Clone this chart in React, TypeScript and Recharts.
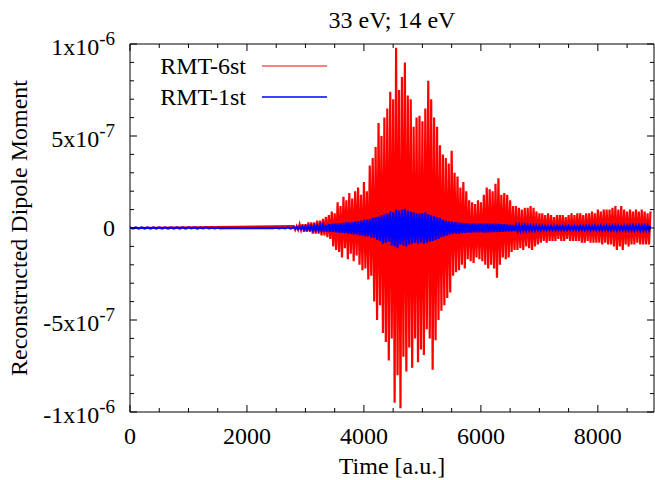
import React from 'react';
import { LineChart, Line, XAxis, YAxis, ReferenceArea, Customized } from 'recharts';

// ---- data (values in units of 1e-8) ----
const RED_T0 = 2800;
const BLUE_EARLY_T0 = 0;
const STEP_MAIN = 25;
const STEP_EARLY = 50;

const redValues: number[] = [
  1, -1, 1, -1, 2, -1, 2, -2,
  2, -2, 3, -2, 3, -3, 3, -3,
  4, -3, 4, -4, 5, -4, 6, -5,
  7, -6, 9, -10, 8, -12, 14, -13,
  12, -16, 17, -11, 15, -17, 19, -14,
  16, -18, 20, -15, 22, -20, 18, -23,
  25, -22, 20, -28, 34, -26, 38, -40,
  44, -50, 57, -42, 50, -57, 60, -62,
  65, -72, 74, -60, 70, -95, 98, -80,
  75, -98, 82, -70, 90, -78, 72, -65,
  70, -76, 55, -60, 60, -73, 61, -66,
  58, -69, 65, -55, 80, -60, 70, -77,
  60, -61, 55, -50, 45, -45, 40, -42,
  38, -38, 35, -35, 42, -26, 30, -24,
  28, -23, 22, -20, 25, -22, 20, -17,
  15, -18, 14, -19, 13, -16, 15, -17,
  14, -18, 18, -20, 22, -22, 21, -20,
  20, -22, 24, -27, 27, -20, 18, -16,
  19, -17, 18, -16, 15, -13, 12, -12,
  12, -12, 11, -11, 10, -12, 11, -10,
  11, -11, 12, -12, 11, -10, 9, -9,
  8, -8, 8, -7, 7, -8, 8, -7,
  7, -7, 6, -7, 7, -6, 7, -7,
  7, -7, 6, -6, 7, -7, 8, -7,
  7, -7, 8, -7, 8, -8, 7, -8,
  8, -7, 8, -8, 9, -8, 8, -8,
  10, -8, 9, -9, 10, -8, 10, -9,
  10, -9, 11, -10, 12, -12, 10, -10,
  12, -12, 10, -9, 9, -10, 10, -9,
  9, -9, 10, -8, 9, -9, 10, -9,
  9, -9, 8, -9, 9,
];

const blueEarlyValues: number[] = [
  0.3, -0.3, 0.3, -0.3, 0.3, -0.3, 0.3, -0.3,
  0.3, -0.3, 0.3, -0.3, 0.3, -0.3, 0.3, -0.3,
  0.3, -0.3, 0.3, -0.3, 0.3, -0.2, 0.3, -0.3,
  0.2, -0.2, 0.3, -0.2, 0.2, -0.2, 0.2, -0.2,
  0.1, -0.1, 0.1, -0.1, 0.1, -0.1, 0.1, -0.1,
  0.1, -0.1, 0.1, -0.1, 0.1, -0.1, 0.1, -0.1,
  0.1, -0.1, 0.2, -0.2, 0.2, -0.2, 0.3, -0.3,
];

const blueValues: number[] = [
  0.4, -0.4, 0.5, -0.5, 0.6, -0.6, 0.7, -0.7,
  0.8, -0.8, 0.9, -0.9, 1, -1.1, 1.1, -1.1,
  1.2, -1.2, 1.4, -1.4, 1.5, -1.7, 1.7, -1.9,
  2, -2, 2.2, -2, 2.3, -2.3, 2.5, -2.5,
  2.5, -2.6, 2.8, -2.8, 3, -3, 3, -3.2,
  3.2, -3.4, 3.5, -3.5, 3.8, -4, 4, -4.2,
  4.4, -4.5, 4.6, -4.5, 5, -5.2, 5.5, -5.4,
  6, -6.5, 6.2, -7, 7, -8.5, 7.5, -8,
  8, -7.5, 9, -9.5, 8.5, -10, 10, -11,
  9.5, -9, 10, -9.5, 10.5, -10, 9.5, -9,
  9, -8.5, 8.5, -8, 8, -8.5, 8, -8,
  8, -8.5, 8.5, -8, 7.5, -7.5, 7, -7,
  6.5, -6.5, 6, -6, 5.5, -5, 4.5, -4.5,
  4, -4, 3.8, -3.5, 3.5, -3.2, 3.2, -3,
  3, -3, 2.8, -2.8, 2.8, -2.6, 2.6, -2.5,
  2.5, -2.5, 2.4, -2.4, 2.3, -2.3, 2.3, -2.2,
  2.3, -2.3, 2.4, -2.5, 2.4, -2.3, 2.3, -2.2,
  2.2, -2.2, 2.3, -2.2, 2.2, -2.1, 2, -2,
  2, -1.9, 1.8, -1.8, 1.7, -1.7, 1.6, -1.6,
  1.5, -1.5, 1.5, -1.4, 1.4, -1.4, 1.3, -1.3,
  1.3, -1.3, 1.2, -1.2, 1.2, -1.2, 1.1, -1.1,
  1.1, -1.1, 1, -1, 1, -1, 1, -1,
  1, -1, 1, -1, 0.9, -0.9, 1, -1,
  0.9, -0.9, 1, -1, 0.9, -0.9, 1, -1,
  1, -1, 1, -1, 1, -1, 1, -1,
  1, -1, 1.1, -1.1, 1, -1, 1.1, -1,
  1, -1, 1.1, -1.1, 1, -1, 1, -1.1,
  1.1, -1.1, 1, -1, 1.2, -1.2, 1.1, -1,
  1, -1, 1.1, -1.1, 1, -1.1, 1.2, -1.2,
  1.2, -1.2, 1.1, -1.1, 1.2, -1.2, 1.3, -1.2,
  1.2, -1.2, 1.3, -1.2, 1.2,
];

const xTicks = [0, 500, 1000, 1500, 2000, 2500, 3000, 3500, 4000, 4500, 5000, 5500, 6000, 6500, 7000, 7500, 8000, 8500];
const xMajor = [0, 2000, 4000, 6000, 8000];
const yLabels = [
  { v: 1e-6, m: '1x10', e: '-6' },
  { v: 5e-7, m: '5x10', e: '-7' },
  { v: 0, m: '0', e: '' },
  { v: -5e-7, m: '-5x10', e: '-7' },
  { v: -1e-6, m: '-1x10', e: '-6' },
];
const yTicks = [-10, -9, -8, -7, -6, -5, -4, -3, -2, -1, 0, 1, 2, 3, 4, 5, 6, 7, 8, 9, 10].map((k) => k * 1e-7);

const SCALE = 1e-8;
const toSeries = (vals: number[], t0: number, step: number) =>
  vals.map((v, i) => ({ t: t0 + i * step, v: v * SCALE }));

const redData = [{ t: 0, v: 0 }, ...toSeries(redValues, RED_T0, STEP_MAIN)];
const blueData = [
  ...toSeries(blueEarlyValues, BLUE_EARLY_T0, STEP_EARLY),
  ...toSeries(blueValues, RED_T0, STEP_MAIN),
];

// ---- layout ----
const W = 655;
const H = 480;
const PL = 130;
const PR = 654;
const PT = 44;
const PB = 412;
const FONT = '"Liberation Serif", "Times New Roman", serif';

const XTick = (props: any) => {
  const { x, payload } = props;
  const v = payload.value;
  const major = xMajor.includes(v);
  const len = major ? 7 : 4;
  return (
    <g>
      <line x1={x} y1={PB} x2={x} y2={PB - len} stroke="#000" strokeWidth={1} />
      <line x1={x} y1={PT} x2={x} y2={PT + len} stroke="#000" strokeWidth={1} />
      {major && (
        <text x={x} y={444} textAnchor="middle" fontSize={24} fontFamily={FONT} fill="#000">
          {v}
        </text>
      )}
    </g>
  );
};

const YTick = (props: any) => {
  const { y, payload } = props;
  const v = payload.value;
  const lab = yLabels.find((l) => Math.abs(l.v - v) < 1e-9);
  const len = lab ? 7 : 4;
  return (
    <g>
      <line x1={PL} y1={y} x2={PL + len} y2={y} stroke="#000" strokeWidth={1} />
      <line x1={PR} y1={y} x2={PR - len} y2={y} stroke="#000" strokeWidth={1} />
      {lab && (
        <text x={115} y={y + (lab.e ? 11 : 8)} textAnchor="end" fontSize={24} fontFamily={FONT} fill="#000">
          {lab.m}
          {lab.e && (
            <tspan dy={-10} fontSize={19}>
              {lab.e}
            </tspan>
          )}
        </text>
      )}
    </g>
  );
};

const Decor = () => (
  <g fontFamily={FONT} fill="#000">
    <text x={392} y={28} textAnchor="middle" fontSize={24}>33 eV; 14 eV</text>
    <text x={392} y={474} textAnchor="middle" fontSize={24}>Time [a.u.]</text>
    <text transform="rotate(-90)" x={-228} y={27} textAnchor="middle" fontSize={24}>
      Reconstructed Dipole Moment
    </text>
    <text x={246} y={74} textAnchor="end" fontSize={24}>RMT-6st</text>
    <line x1={262} y1={66} x2={327} y2={66} stroke="#ff0000" strokeWidth={1} />
    <text x={246} y={105} textAnchor="end" fontSize={24}>RMT-1st</text>
    <line x1={262} y1={97} x2={327} y2={97} stroke="#0000ff" strokeWidth={1.5} />
  </g>
);

export default function App() {
  return (
    <div style={{ position: 'absolute', left: 0, top: 0, width: W, height: H, background: '#fff' }}>
      <LineChart width={W} height={H} margin={{ top: PT, right: W - PR, bottom: 0, left: 0 }}>
        <XAxis
          type="number"
          dataKey="t"
          domain={[0, 8960]}
          ticks={xTicks}
          interval={0}
          tick={<XTick />}
          tickLine={false}
          axisLine={false}
          height={H - PB}
          allowDataOverflow
        />
        <YAxis
          type="number"
          domain={[-1e-6, 1e-6]}
          ticks={yTicks}
          interval={0}
          tick={<YTick />}
          tickLine={false}
          axisLine={false}
          width={PL}
          allowDataOverflow
        />
        <Line
          data={redData}
          dataKey="v"
          type="linear"
          stroke="#ff0000"
          strokeWidth={2.2}
          strokeLinejoin="miter"
          dot={false}
          isAnimationActive={false}
        />
        <Line
          data={blueData}
          dataKey="v"
          type="linear"
          stroke="#0000ff"
          strokeWidth={2.2}
          dot={false}
          isAnimationActive={false}
        />
        <ReferenceArea
          x1={0}
          x2={8960}
          y1={-1e-6}
          y2={1e-6}
          fill="none"
          fillOpacity={0}
          stroke="#000"
          strokeWidth={1}
          ifOverflow="visible"
        />
        <Customized component={Decor} />
      </LineChart>
    </div>
  );
}
